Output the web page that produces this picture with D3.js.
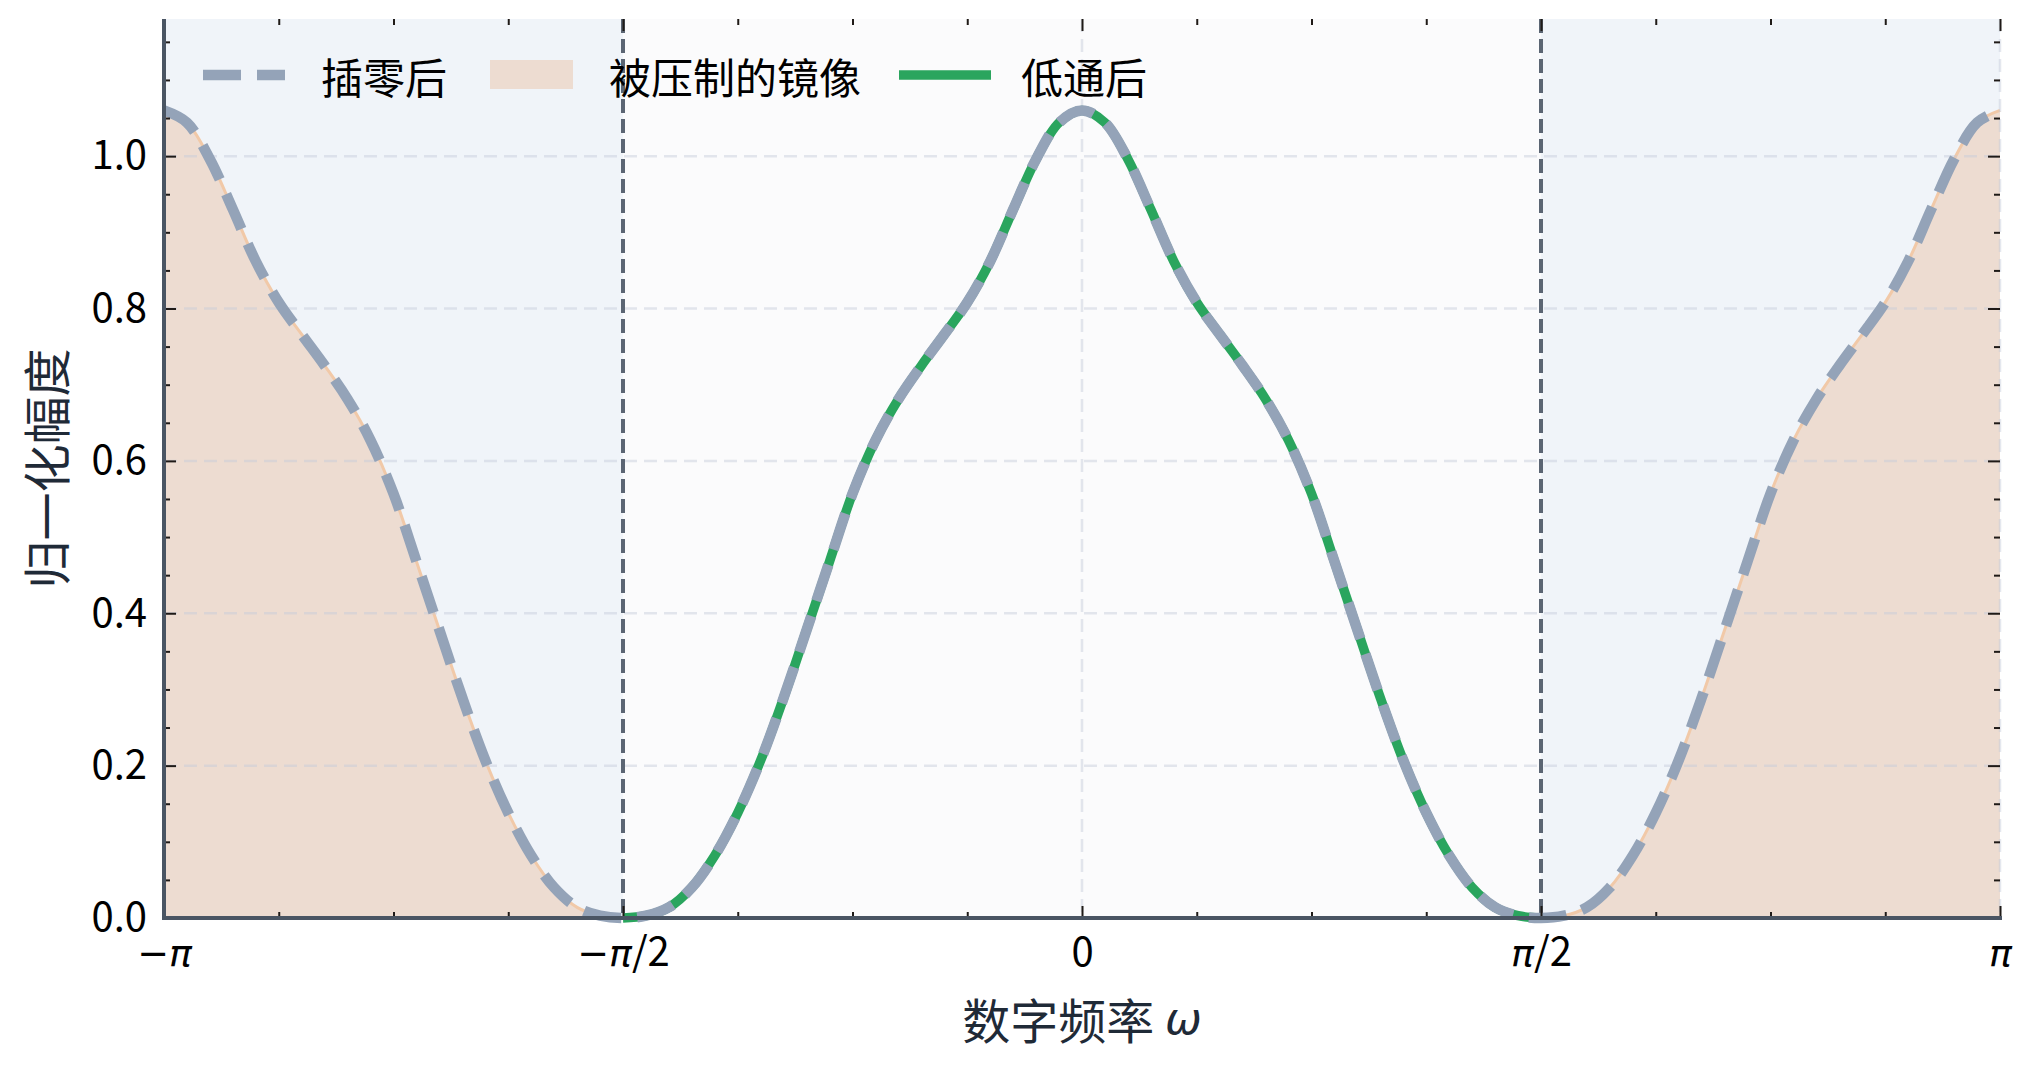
<!DOCTYPE html>
<html>
<head>
<meta charset="utf-8">
<script src="https://cdn.jsdelivr.net/npm/d3@7"></script>
<style>
  html, body { margin: 0; padding: 0; background: #ffffff; }
  svg { display: block; }
</style>
</head>
<body>
<svg id="chart" width="2032" height="1066"></svg>
<script>
// ---------------- data ----------------
// position inside one half-band, in units of π/2 (0 = band centre, 1 = band edge)
const bandPosition = [0, 0.05, 0.10, 0.15, 0.20, 0.25, 0.30, 0.35, 0.40, 0.45, 0.50,
                      0.55, 0.60, 0.65, 0.70, 0.75, 0.80, 0.85, 0.90, 0.95, 1.00];
// normalised magnitude at those positions
const magnitude = [1.060, 1.044, 0.996, 0.930, 0.862, 0.808, 0.766, 0.725, 0.681, 0.627, 0.557,
                   0.468, 0.378, 0.289, 0.207, 0.138, 0.082, 0.040, 0.014, 0.003, 0.000];
const seriesNames = ["插零后", "被压制的镜像", "低通后"];
const xTickValues = [-Math.PI, -Math.PI / 2, 0, Math.PI / 2, Math.PI];
const xTickLabels = ["−π", "−π/2", "0", "π/2", "π"];
const yTickValues = [0, 0.2, 0.4, 0.6, 0.8, 1.0];
const yTickLabels = ["0.0", "0.2", "0.4", "0.6", "0.8", "1.0"];
const xLabel = "数字频率 ";
const xLabelSymbol = "ω";
const yLabel = "归一化幅度";

// ---------------- build curve points by reflecting the half-band ----------------
const H = Math.PI / 2;
const outerLeft = bandPosition.map((u, i) => ({ w: -(Math.PI - u * H), v: magnitude[i] }));
const centerLeft = bandPosition.slice().reverse().map((u, k) => ({ w: -u * H, v: magnitude[magnitude.length - 1 - k] }));
const centerRight = bandPosition.map((u, i) => ({ w: u * H, v: magnitude[i] }));
const outerRight = bandPosition.slice().reverse().map((u, k) => ({ w: Math.PI - u * H, v: magnitude[magnitude.length - 1 - k] }));
const centerPts = centerLeft.concat(centerRight.slice(1));
const fullPts = outerLeft.concat(centerLeft.slice(1), centerRight.slice(1), outerRight.slice(1));

// ---------------- layout ----------------
const L = 164, R = 2000, T = 19, B = 918;
const svg = d3.select("#chart");
const x = d3.scaleLinear().domain([-Math.PI, Math.PI]).range([L, R]);
const y = d3.scaleLinear().domain([0, 1.18]).range([B, T]);
const FONT = "'Noto Sans CJK SC', 'Noto Sans', sans-serif";
const CURVE = d3.curveCatmullRom.alpha(0.5);

// backgrounds
svg.append("rect").attr("x", x(-H)).attr("y", T).attr("width", x(H) - x(-H)).attr("height", B - T).attr("fill", "#fbfbfc");
svg.append("rect").attr("x", L).attr("y", T).attr("width", x(-H) - L).attr("height", B - T).attr("fill", "#f0f4f9");
svg.append("rect").attr("x", x(H)).attr("y", T).attr("width", R - x(H)).attr("height", B - T).attr("fill", "#f0f4f9");

// image fill (outer bands)
const area = d3.area().x(d => x(d.w)).y0(y(0)).y1(d => Math.min(y(0), y(d.v))).curve(CURVE);
const line = d3.line().x(d => x(d.w)).y(d => y(d.v)).curve(CURVE);
[outerLeft, outerRight.slice().sort((a, b) => a.w - b.w)].forEach(pts => {
  svg.append("path").datum(pts).attr("d", area).attr("fill", "#eddcd1");
  svg.append("path").datum(pts).attr("d", line).attr("fill", "none").attr("stroke", "#f1c9a8").attr("stroke-width", 3);
});

// grid
const grid = svg.append("g");
yTickValues.forEach(v => {
  if (v === 0) return;
  grid.append("line").attr("x1", L).attr("x2", R).attr("y1", y(v)).attr("y2", y(v))
    .attr("stroke", "rgba(196,202,218,0.45)").attr("stroke-width", 2.5).attr("stroke-dasharray", "13 7");
});
xTickValues.forEach(v => {
  grid.append("line").attr("x1", x(v)).attr("x2", x(v)).attr("y1", T).attr("y2", B)
    .attr("stroke", "rgba(196,202,218,0.45)").attr("stroke-width", 2.5).attr("stroke-dasharray", "13 7");
});

// band edges
[-H, H].forEach(v => {
  svg.append("line").attr("x1", x(v)).attr("x2", x(v)).attr("y1", T).attr("y2", B)
    .attr("stroke", "#5b6573").attr("stroke-width", 4).attr("stroke-dasharray", "14 6");
});

// low-pass (green) and zero-inserted (dashed grey)
svg.append("path").datum(centerPts).attr("d", line).attr("fill", "none")
  .attr("stroke", "#2aa55e").attr("stroke-width", 9.5);
svg.append("path").datum(fullPts).attr("d", line).attr("fill", "none")
  .attr("stroke", "#94a3b8").attr("stroke-width", 10.5).attr("stroke-dasharray", "38 16");

// ---------------- axes ----------------
const minorX = d3.range(-8, 9).map(k => k * Math.PI / 8).filter(v => !xTickValues.some(m => Math.abs(m - v) < 1e-9));
const minorY = d3.range(0, 24).map(k => +(k * 0.05).toFixed(2)).filter(v => v <= 1.18 && !yTickValues.some(m => Math.abs(m - v) < 1e-9));

function styleAxis(g) {
  g.select(".domain").remove();
  g.selectAll(".tick line").attr("stroke", "#1f1a17").attr("stroke-width", 2);
}

// bottom major with labels
const gxb = svg.append("g").attr("transform", `translate(0,${B})`)
  .call(d3.axisBottom(x).tickValues(xTickValues).tickSize(-12).tickPadding(20)
    .tickFormat((d, i) => xTickLabels[i]));
styleAxis(gxb);
gxb.selectAll(".tick text").attr("font-family", FONT).attr("font-size", 40).attr("fill", "#000")
  .each(function (d, i) {
    const t = d3.select(this);
    const lab = xTickLabels[i];
    t.text(null);
    for (const ch of lab) {
      const sp = t.append("tspan").text(ch);
      if (ch === "π") sp.attr("font-family", "'DejaVu Sans', sans-serif").attr("font-style", "italic").attr("font-size", 38);
      if (ch === "−") sp.attr("font-family", "'DejaVu Sans', sans-serif").attr("font-size", 38);
    }
  });
svg.append("g").attr("transform", `translate(0,${B})`)
  .call(d3.axisBottom(x).tickValues(minorX).tickSize(-6).tickFormat(""))
  .call(styleAxis);
// top ticks
svg.append("g").attr("transform", `translate(0,${T})`)
  .call(d3.axisTop(x).tickValues(xTickValues).tickSize(-12).tickFormat("")).call(styleAxis);
svg.append("g").attr("transform", `translate(0,${T})`)
  .call(d3.axisTop(x).tickValues(minorX).tickSize(-6).tickFormat("")).call(styleAxis);

// left major with labels
const gyl = svg.append("g").attr("transform", `translate(${L},0)`)
  .call(d3.axisLeft(y).tickValues(yTickValues).tickSize(-12).tickPadding(17)
    .tickFormat((d, i) => yTickLabels[i]));
styleAxis(gyl);
gyl.selectAll(".tick text").attr("font-family", FONT).attr("font-size", 40).attr("fill", "#000");
svg.append("g").attr("transform", `translate(${L},0)`)
  .call(d3.axisLeft(y).tickValues(minorY).tickSize(-6).tickFormat("")).call(styleAxis);
// right ticks
svg.append("g").attr("transform", `translate(${R},0)`)
  .call(d3.axisRight(y).tickValues(yTickValues).tickSize(-12).tickFormat("")).call(styleAxis);
svg.append("g").attr("transform", `translate(${R},0)`)
  .call(d3.axisRight(y).tickValues(minorY).tickSize(-6).tickFormat("")).call(styleAxis);

// spines
svg.append("line").attr("x1", L).attr("x2", L).attr("y1", T).attr("y2", B + 2)
  .attr("stroke", "#4a5563").attr("stroke-width", 4);
svg.append("line").attr("x1", L - 2).attr("x2", R + 2).attr("y1", B).attr("y2", B)
  .attr("stroke", "#4a5563").attr("stroke-width", 4);

// axis labels
const xl = svg.append("text").attr("x", (L + R) / 2).attr("y", 1018).attr("text-anchor", "middle")
  .attr("dominant-baseline", "central").attr("font-family", FONT).attr("font-size", 48).attr("fill", "#1f2a37");
xl.append("tspan").text(xLabel);
xl.append("tspan").text(xLabelSymbol).attr("font-family", "'DejaVu Sans', sans-serif").attr("font-style", "italic").attr("font-size", 44);

svg.append("text").attr("transform", `translate(44,${(T + B) / 2}) rotate(-90)`).attr("text-anchor", "middle")
  .attr("dominant-baseline", "central").attr("font-family", FONT).attr("font-size", 48).attr("fill", "#1f2a37")
  .text(yLabel);

// ---------------- legend ----------------
const lg = svg.append("g");
const ly = 75;
lg.append("line").attr("x1", 203).attr("x2", 285).attr("y1", ly).attr("y2", ly)
  .attr("stroke", "#94a3b8").attr("stroke-width", 10.5).attr("stroke-dasharray", "38 16");
lg.append("text").attr("x", 321).attr("y", ly).attr("dominant-baseline", "central")
  .attr("font-family", FONT).attr("font-size", 42).attr("fill", "#000").text(seriesNames[0]);
lg.append("rect").attr("x", 490).attr("y", 60).attr("width", 83).attr("height", 29).attr("fill", "#eddcd1");
lg.append("text").attr("x", 609).attr("y", ly).attr("dominant-baseline", "central")
  .attr("font-family", FONT).attr("font-size", 42).attr("fill", "#000").text(seriesNames[1]);
lg.append("line").attr("x1", 899).attr("x2", 991).attr("y1", ly).attr("y2", ly)
  .attr("stroke", "#2aa55e").attr("stroke-width", 9.5);
lg.append("text").attr("x", 1021).attr("y", ly).attr("dominant-baseline", "central")
  .attr("font-family", FONT).attr("font-size", 42).attr("fill", "#000").text(seriesNames[2]);
</script>
</body>
</html>
